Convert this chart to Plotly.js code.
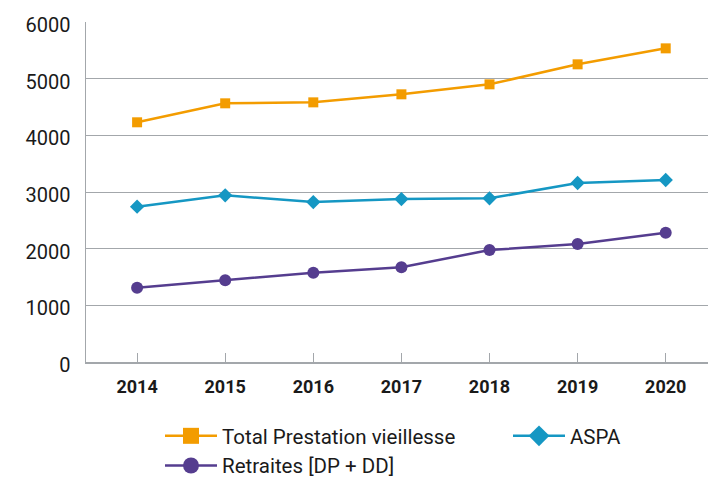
<!DOCTYPE html>
<html>
<head>
<meta charset="utf-8">
<script src="https://cdn.plot.ly/plotly-3.0.1.min.js"></script>
<style>html,body{margin:0;padding:0;background:#fff;}#chart{width:708px;height:478px;}</style>
</head>
<body>
<div id="chart"></div>
<script>
var years = ['2014','2015','2016','2017','2018','2019','2020'];
var totalPrestation = [4230, 4565, 4582, 4724, 4900, 5253, 5535];
var aspa = [2741, 2941, 2823, 2876, 2888, 3159, 3212];
var retraites = [1311, 1441, 1576, 1671, 1976, 2082, 2282];
var yTicks = [0, 1000, 2000, 3000, 4000, 5000, 6000];

var cOrange = '#F39C00', cBlue = '#1597C3', cPurple = '#553D8F';

var traces = [
  {x: years, y: totalPrestation, type: 'scatter', mode: 'lines+markers', name: 'Total Prestation vieillesse',
   line: {color: cOrange, width: 2.5}, marker: {symbol: 'square', size: 10, color: cOrange}, showlegend: false, cliponaxis: false},
  {x: years, y: aspa, type: 'scatter', mode: 'lines+markers', name: 'ASPA',
   line: {color: cBlue, width: 2.5}, marker: {symbol: 'diamond', size: 11, color: cBlue}, showlegend: false, cliponaxis: false},
  {x: years, y: retraites, type: 'scatter', mode: 'lines+markers', name: 'Retraites [DP + DD]',
   line: {color: cPurple, width: 2.5}, marker: {symbol: 'circle', size: 12, color: cPurple}, showlegend: false, cliponaxis: false},
  // legend entries
  {x: [null], y: [null], type: 'scatter', mode: 'lines+markers', name: 'Total Prestation vieillesse', legend: 'legend',
   line: {color: cOrange, width: 2.5}, marker: {symbol: 'square', size: 16, color: cOrange}},
  {x: [null], y: [null], type: 'scatter', mode: 'lines+markers', name: 'Retraites [DP + DD]', legend: 'legend',
   line: {color: cPurple, width: 2.5}, marker: {symbol: 'circle', size: 17, color: cPurple}},
  {x: [null], y: [null], type: 'scatter', mode: 'lines+markers', name: 'ASPA', legend: 'legend2',
   line: {color: cBlue, width: 2.5}, marker: {symbol: 'diamond', size: 20, color: cBlue}}
];

var layout = {
  width: 708, height: 478,
  margin: {l: 86, r: 0, t: 22, b: 116, autoexpand: false},
  paper_bgcolor: '#fff', plot_bgcolor: '#fff',
  font: {family: 'Roboto, sans-serif', color: '#1a1a1a'},
  xaxis: {
    type: 'category', range: [-0.58, 6.48],
    showline: true, linecolor: '#a3a7ab', linewidth: 1.5,
    ticks: 'inside', ticklen: 9, tickcolor: '#a3a7ab', tickwidth: 1,
    showgrid: false, zeroline: false,
    tickfont: {family: 'Roboto, sans-serif', size: 18, color: '#1a1a1a', weight: 'bold'},
    ticklabelstandoff: 8
  },
  yaxis: {
    range: [0, 6000], tickvals: yTicks, ticktext: yTicks.map(String),
    showline: true, linecolor: '#a3a7ab', linewidth: 1.5,
    showgrid: true, gridcolor: '#a3a7ab', gridwidth: 1,
    zeroline: false, ticks: '',
    tickfont: {family: 'Roboto, sans-serif', size: 20, color: '#1a1a1a'},
    ticklabelstandoff: 10,
    ticklabelshift: 3
  },
  legend: {
    orientation: 'v', bgcolor: 'rgba(0,0,0,0)',
    font: {family: 'Roboto, sans-serif', size: 20.5, color: '#1a1a1a'},
    tracegroupgap: 0, itemwidth: 52,
    xref: 'container', yref: 'container',
    x: 160 / 708, xanchor: 'left',
    y: 1 - 416 / 478, yanchor: 'top'
  },
  legend2: {
    orientation: 'v', bgcolor: 'rgba(0,0,0,0)',
    font: {family: 'Roboto, sans-serif', size: 20.5, color: '#1a1a1a'},
    itemwidth: 52,
    xref: 'container', yref: 'container',
    x: 508 / 708, xanchor: 'left',
    y: 1 - 416 / 478, yanchor: 'top'
  }
};

Plotly.newPlot('chart', traces, layout, {displayModeBar: false, staticPlot: true});
</script>
</body>
</html>
